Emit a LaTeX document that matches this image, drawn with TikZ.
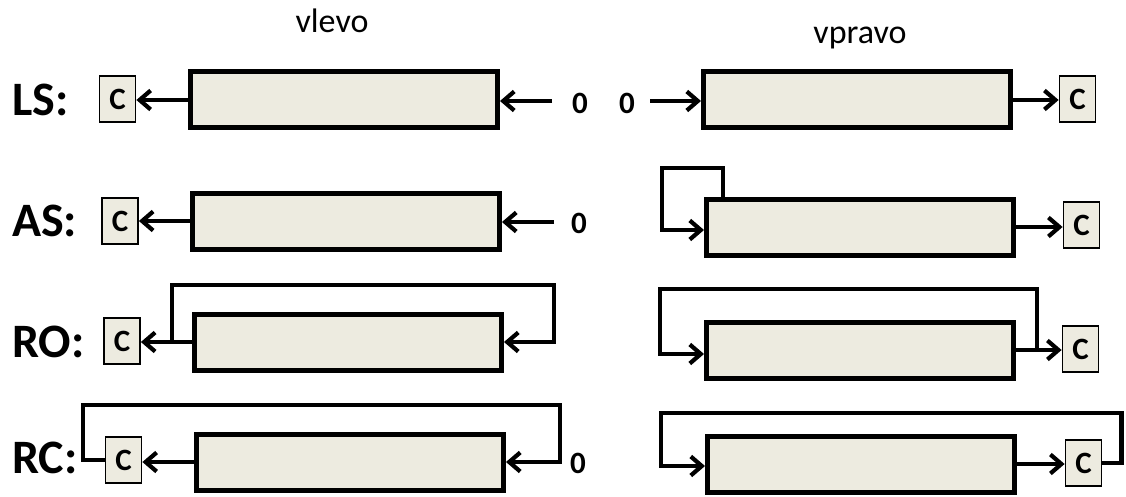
\documentclass[tikz,border=0pt]{standalone}
\usepackage{fontspec}
\setmainfont{Carlito}
\usetikzlibrary{arrows.meta}

\definecolor{regfill}{RGB}{237,235,224}
\tikzset{
	reg/.style={draw,line width=5pt,fill=regfill,minimum width=307pt,minimum height=56pt,inner sep=0pt},
	cbit/.style={draw,line width=1.8pt,fill=regfill,minimum width=36pt,minimum height=46pt,inner sep=0pt,font=\bfseries\fontsize{31}{32}\selectfont},
	lbl/.style={anchor=west,inner sep=0pt,font=\bfseries\fontsize{48}{50}\selectfont},
	nula/.style={inner sep=0pt,font=\bfseries\fontsize{31}{32}\selectfont},
	wire/.style={line width=4.2pt},
	sarrow/.style={wire,-{Straight Barb[length=11pt,width=19pt,line width=4.2pt]}},
}

\begin{document}
\begin{tikzpicture}[x=1pt,y=-1pt]
	\useasboundingbox (0,0) rectangle (1126,497);
	\node[anchor=base,font=\fontsize{34}{36}\selectfont] (tl) at (332,33) {vlevo};
	\node[anchor=base,font=\fontsize{34}{36}\selectfont] (tr) at (860,44) {vpravo};
	% LS
	\node[lbl] (lLS) at (12,100) {LS:};
	\node[cbit] (cLSl) at (117.5,99) {C};
	\node[reg] (rLSl) at (344,100) {};
	\node[nula] (zLSl) at (580,103) {0};
	\coordinate (iLSl) at (552,101);
	\draw[sarrow] (rLSl.west) -- (rLSl.west -| cLSl.east); %ven
	\draw[sarrow] (iLSl) -- (iLSl -| rLSl.east); %dovnitr
	\node[nula] (zLSr) at (627,103) {0};
	\coordinate (iLSr) at (650,101);
	\node[reg] (rLSr) at (857,100) {};
	\node[cbit] (cLSr) at (1077.5,99) {C};
	\draw[sarrow] (iLSr) -- (iLSr -| rLSr.west);
	\draw[sarrow] (rLSr.east) -- (rLSr.east -| cLSr.west);
	% AS
	\node[lbl] (lAS) at (12,221) {AS:};
	\node[cbit] (cASl) at (120,221) {C};
	\node[reg] (rASl) at (346,221) {};
	\node[nula] (zASl) at (579,223) {0};
	\coordinate (iASl) at (554,222);
	\draw[sarrow] (rASl.west) -- (rASl.west -| cASl.east);
	\draw[sarrow] (iASl) -- (iASl -| rASl.east);
	\node[reg] (rASr) at (860,227) {};
	\node[cbit] (cASr) at (1081.5,225) {C};
	\draw[sarrow] (rASr.east) -- (rASr.east -| cASr.west);
	\draw[sarrow] ([xshift=19pt]rASr.north west) |- (662,168) |- ([yshift=-3pt]rASr.west); %znamenko
	% RO
	\node[lbl] (lRO) at (12,342) {RO:};
	\node[cbit] (cROl) at (122,341) {C};
	\node[reg] (rROl) at (348,342) {};
	\coordinate (tROl) at (172,342);
	\draw[sarrow] (rROl.west) -- (rROl.west -| cROl.east);
	\draw[sarrow] (tROl) |- (554,285) |- (rROl.east); %rotace
	\node[reg] (rROr) at (860,350) {};
	\node[cbit] (cROr) at (1080.5,349) {C};
	\coordinate (tROr) at (1037,350);
	\draw[sarrow] (rROr.east) -- (rROr.east -| cROr.west);
	\draw[sarrow] (tROr) |- (660,289) |- ([yshift=-4pt]rROr.west);
	% RC
	\node[lbl] (lRC) at (12,458) {RC:};
	\node[cbit] (cRCl) at (123.5,460) {C};
	\node[reg] (rRCl) at (350,462) {};
	\node[nula] (zRCl) at (578,463) {0};
	\draw[sarrow] (rRCl.west) -- (rRCl.west -| cRCl.east);
	\draw[sarrow] (cRCl.west) -- ++(-22,0) |- (560,405) |- (rRCl.east); %rotace pres C
	\node[reg] (rRCr) at (861,464) {};
	\node[cbit] (cRCr) at (1083.5,463) {C};
	\draw[sarrow] (rRCr.east) -- (rRCr.east -| cRCr.west);
	\draw[sarrow] (cRCr.east) -- ++(19,0) |- (661,413) |- ([yshift=-2pt]rRCr.west);
\end{tikzpicture}
\end{document}
